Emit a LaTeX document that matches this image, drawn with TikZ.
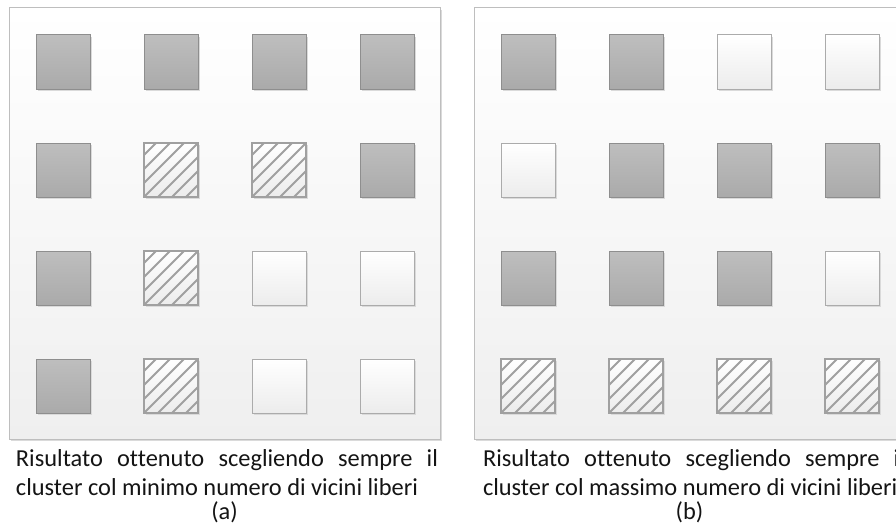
\documentclass[tikz,border=0pt]{standalone}
\usepackage{fontspec}
\setmainfont{Carlito}[Ligatures=NoCommon]
\usetikzlibrary{shadows,calc}

\definecolor{panelline}{HTML}{BEBEBE}
\definecolor{paneltop}{HTML}{FFFFFF}
\definecolor{panelbot}{HTML}{EFEFEF}
\definecolor{darktop}{HTML}{BEBEBE}
\definecolor{darkbot}{HTML}{AAAAAA}
\definecolor{darkline}{HTML}{8E8E8E}
\definecolor{lighttop}{HTML}{FFFFFF}
\definecolor{lightbot}{HTML}{ECECEC}
\definecolor{lightline}{HTML}{ABABAB}
\definecolor{hatchgray}{HTML}{A0A0A0}
\definecolor{shadowgray}{HTML}{DADADA}
\definecolor{textgray}{HTML}{141414}

\tikzset{
  panel/.style={draw=panelline, line width=1pt, top color=paneltop, bottom color=panelbot,
    minimum width=431pt, minimum height=431pt, inner sep=0pt, outer sep=0pt,
    drop shadow={shadow xshift=2pt, shadow yshift=-2pt, fill=shadowgray, opacity=1}},
  cell/.style={minimum width=54pt, minimum height=54pt, inner sep=0pt, outer sep=0pt,
    drop shadow={shadow xshift=2pt, shadow yshift=-2pt, fill=shadowgray, opacity=1}},
  taken/.style={cell, draw=darkline, line width=1pt, top color=darktop, bottom color=darkbot},
  free/.style={cell, draw=lightline, line width=1pt, top color=lighttop, bottom color=lightbot},
  hatchline/.style={draw=hatchgray, line width=1.8pt},
  hatched/.style={cell, draw=hatchgray, line width=2.6pt, top color=lighttop, bottom color=lightbot,
    path picture={
      \foreach \k in {-1,...,8}
        \draw[hatchline] ($(path picture bounding box.north west)+(\k*14-2,0)$) -- ++(-60,60);
    }},
  caption/.style={inner sep=0pt, outer sep=0pt, text=textgray,
    font=\fontsize{24.4}{29}\selectfont},
}

\begin{document}
\begin{tikzpicture}[x=1pt,y=-1pt]
  \useasboundingbox (0,0) rectangle (896,527);
  \clip (0,0) rectangle (896,527);

  % the two panels
  \node[panel] (pa) at (224.5,223.5) {};
  \node[panel] (pb) at (689.5,223.5) {};

  % panel (a): minimum free neighbours
  \node[taken]   (a11) at (63,62)  {};
  \node[taken]   (a12) at (171,62) {};
  \node[taken]   (a13) at (279,62) {};
  \node[taken]   (a14) at (387,62) {};
  \node[taken]   (a21) at (63,170)  {};
  \node[hatched] (a22) at (171,170) {};
  \node[hatched] (a23) at (279,170) {};
  \node[taken]   (a24) at (387,170) {};
  \node[taken]   (a31) at (63,278)  {};
  \node[hatched] (a32) at (171,278) {};
  \node[free]    (a33) at (279,278) {};
  \node[free]    (a34) at (387,278) {};
  \node[taken]   (a41) at (63,386)  {};
  \node[hatched] (a42) at (171,386) {};
  \node[free]    (a43) at (279,386) {};
  \node[free]    (a44) at (387,386) {};

  % panel (b): maximum free neighbours
  \node[taken]   (b11) at (528,62) {};
  \node[taken]   (b12) at (636,62) {};
  \node[free]    (b13) at (744,62) {};
  \node[free]    (b14) at (852,62) {};
  \node[free]    (b21) at (528,170) {};
  \node[taken]   (b22) at (636,170) {};
  \node[taken]   (b23) at (744,170) {};
  \node[taken]   (b24) at (852,170) {};
  \node[taken]   (b31) at (528,278) {};
  \node[taken]   (b32) at (636,278) {};
  \node[taken]   (b33) at (744,278) {};
  \node[free]    (b34) at (852,278) {};
  \node[hatched] (b41) at (528,386) {};
  \node[hatched] (b42) at (636,386) {};
  \node[hatched] (b43) at (744,386) {};
  \node[hatched] (b44) at (852,386) {};

  % captions
  \node[caption, anchor=base west] (ca1) at (16,466)
    {\makebox[422pt][s]{Risultato ottenuto scegliendo sempre il}};
  \node[caption, anchor=base west] (ca2) at (16,495)
    {cluster col minimo numero di vicini liberi};
  \node[caption, anchor=base] (ca3) at (224.5,519) {(a)};

  \node[caption, anchor=base west] (cb1) at (483,466)
    {\makebox[422pt][s]{Risultato ottenuto scegliendo sempre il}};
  \node[caption, anchor=base west] (cb2) at (483,495)
    {cluster col massimo numero di vicini liberi};
  \node[caption, anchor=base] (cb3) at (689.5,519) {(b)};
\end{tikzpicture}
\end{document}
